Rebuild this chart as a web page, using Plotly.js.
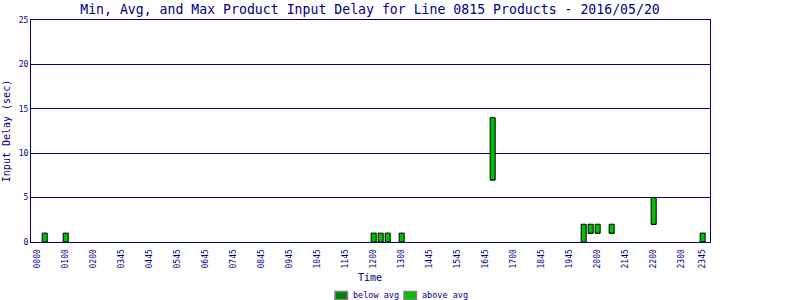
<!DOCTYPE html>
<html>
<head>
<meta charset="utf-8">
<script src="https://cdn.plot.ly/plotly-3.0.1.min.js"></script>
<style>html,body{margin:0;padding:0;background:#fff;}#chart{width:800px;height:300px;}</style>
</head>
<body>
<div id="chart"></div>
<script>
// Time slots (15-minute slot index of the day) that have products
var slots = [1, 4, 48, 49, 50, 52, 65, 78, 79, 80, 82, 88, 95];
// Input delay (sec)
var minDelay = [0, 0, 0, 0, 0, 0, 7, 0, 1, 1, 1, 2, 0];
var avgDelay = [0, 0, 0, 0, 0, 0, 7, 0, 1, 1, 1, 2, 0];
var maxDelay = [1, 1, 1, 1, 1, 1, 14, 2, 2, 2, 2, 5, 1];
// X tick labels and the slot each one sits on
var tickLabels = ["0000","0100","0200","0345","0445","0545","0645","0745","0845","0945","1045","1145",
                  "1200","1300","1445","1545","1645","1700","1845","1945","2000","2145","2200","2300","2345"];
var tickSlots = [0,4,8,12,16,20,24,28,32,36,40,44,48,52,56,60,64,68,72,76,80,84,88,92,95];
var seriesNames = ["below avg", "above avg"];
var seriesColors = ["#008000", "#00c000"];

var navy = "#000080";
var mono = "DejaVu Sans Mono, Liberation Mono, monospace";

var belowH = avgDelay.map(function(a, i){ return a - minDelay[i]; });
var aboveH = maxDelay.map(function(m, i){ return m - avgDelay[i]; });

var traces = [
  {type: "bar", name: seriesNames[0], x: slots, y: belowH, base: minDelay, width: 0.72,
   marker: {color: seriesColors[0], line: {color: "#000000", width: 1}}, hoverinfo: "none"},
  {type: "bar", name: seriesNames[1], x: slots, y: aboveH, base: avgDelay, width: 0.72,
   marker: {color: seriesColors[1], line: {color: "#000000", width: 1}}, hoverinfo: "none"}
];

// custom legend (swatches + labels) below the axis title
var legendX = [0.4477, 0.5493];
var shapes = [], annotations = [];
for (var i = 0; i < seriesNames.length; i++) {
  shapes.push({type: "rect", xref: "paper", yref: "paper",
    x0: legendX[i], x1: legendX[i] + 0.0184, y0: -0.2225, y1: -0.2585,
    fillcolor: seriesColors[i], line: {color: "#808080", width: 1.5}});
  annotations.push({xref: "paper", yref: "paper", x: legendX[i] + 0.0235, y: -0.2405,
    xanchor: "left", yanchor: "middle", showarrow: false, text: seriesNames[i],
    font: {family: mono, size: 8.5, color: navy}});
}
annotations.push({xref: "paper", yref: "paper", x: 0.4993, y: -0.162, xanchor: "center", yanchor: "middle",
  showarrow: false, text: "Time", font: {family: mono, size: 10, color: navy}});

var layout = {
  width: 800, height: 300,
  margin: {l: 31, r: 90, t: 20, b: 58},
  paper_bgcolor: "#ffffff", plot_bgcolor: "#ffffff",
  barmode: "overlay",
  showlegend: false,
  font: {family: mono, color: navy, size: 8},
  title: {text: "Min, Avg, and Max Product Input Delay for Line 0815 Products - 2016/05/20",
          font: {family: mono, size: 13.2, color: navy}, x: 0.4625, xanchor: "center", y: 0.97, yanchor: "middle", yref: "container"},
  xaxis: {
    range: [-0.96, 96.05], tickmode: "array", tickvals: tickSlots, ticktext: tickLabels,
    tickangle: -90, tickfont: {family: mono, size: 8, color: navy},
    showgrid: false, zeroline: false, showline: true, linecolor: navy, linewidth: 1, mirror: true,
    ticks: "", ticklabelstandoff: 3, automargin: false
  },
  yaxis: {
    range: [0, 25], tickvals: [0, 5, 10, 15, 20, 25],
    tickfont: {family: mono, size: 8, color: navy},
    showgrid: true, gridcolor: navy, gridwidth: 1, zeroline: false,
    showline: true, linecolor: navy, linewidth: 1, mirror: true, ticks: "", automargin: false,
    title: {text: "Input Delay (sec)", font: {family: mono, size: 10, color: navy}, standoff: 6}
  },
  shapes: shapes,
  annotations: annotations
};

Plotly.newPlot("chart", traces, layout, {staticPlot: true, displayModeBar: false});
</script>
</body>
</html>
